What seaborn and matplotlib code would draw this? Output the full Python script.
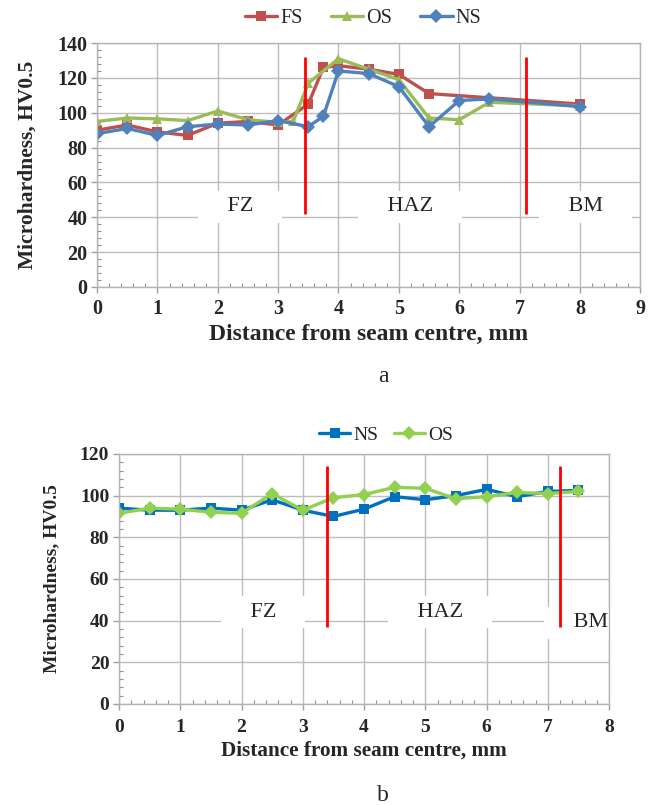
import pandas as pd
import matplotlib
matplotlib.use('Agg')
import matplotlib.pyplot as plt
import seaborn as sns
from matplotlib.ticker import AutoMinorLocator, MultipleLocator

# chart a: three sides of the weld
fs_x = [0, 0.5, 1, 1.5, 2, 2.5, 3, 3.5, 3.75, 4, 4.5, 5, 5.5, 8]
fs_hv = [90, 93, 89, 87, 94, 95, 93, 105, 126, 127, 125, 122, 111, 105]
os_x = [0, 0.5, 1, 1.5, 2, 2.5, 3, 3.25, 3.5, 4, 4.5, 5, 5.5, 6, 6.5, 8]
os_hv = [95, 97, 96.5, 95.5, 101, 96, 94.5, 95, 117, 131, 125, 119, 97, 96, 106, 104]
ns_x = [0, 0.5, 1, 1.5, 2, 2.5, 3, 3.5, 3.75, 4, 4.5, 5, 5.5, 6, 6.5, 8]
ns_hv = [88, 91, 87, 92, 93.5, 93, 95.5, 92, 98, 124, 122.5, 115, 92, 107, 108, 103.5]

# chart b
b_x = [0, 0.5, 1, 1.5, 2, 2.5, 3, 3.5, 4, 4.5, 5, 5.5, 6, 6.5, 7, 7.5]
b_ns = [94, 93, 93, 94, 93, 98, 93, 90, 93.5, 99.5, 98, 100, 103, 99.5, 102, 102.5]
b_os = [91.5, 94, 93.5, 92, 91.5, 101, 93, 99, 100.5, 104, 103.5, 98.5, 99.5, 101.5, 101, 102]

# zone boundaries and zone labels
a_bounds = [3.45, 7.1]
a_bound_span = [42, 132]
b_bounds = [3.4, 7.2]
b_bound_span = [37, 114]
zones = ['FZ', 'HAZ', 'BM']
a_zone_x = [2.37, 5.19, 8.1]
a_zone_y = [46, 46, 46]
b_zone_x = [2.35, 5.24, 7.7]
b_zone_y = [44, 44, 39]

df_a = pd.concat([
    pd.DataFrame({'dist': fs_x, 'hv': fs_hv, 'side': 'FS'}),
    pd.DataFrame({'dist': os_x, 'hv': os_hv, 'side': 'OS'}),
    pd.DataFrame({'dist': ns_x, 'hv': ns_hv, 'side': 'NS'}),
])
df_b = pd.concat([
    pd.DataFrame({'dist': b_x, 'hv': b_ns, 'side': 'NS'}),
    pd.DataFrame({'dist': b_x, 'hv': b_os, 'side': 'OS'}),
])

sns.set_style('whitegrid')
plt.rcParams['font.family'] = ['Liberation Serif', 'DejaVu Serif']

fig = plt.figure(figsize=(6.56, 8.05), dpi=100)
ax_a = fig.add_axes([0.148, 0.6435, 0.828, 0.303])
ax_b = fig.add_axes([0.1814, 0.1255, 0.747, 0.3106])


def style_axes(ax, xmax, ymax, tick_fs, xlab_fs, ylab_fs, ypad, xpad):
    ax.set_xlim(0, xmax)
    ax.set_ylim(0, ymax)
    ax.xaxis.set_major_locator(MultipleLocator(1))
    ax.yaxis.set_major_locator(MultipleLocator(20))
    ax.xaxis.set_minor_locator(AutoMinorLocator(5))
    ax.yaxis.set_minor_locator(AutoMinorLocator(5))
    ax.grid(True, which='major', color='#bdbdbd', linewidth=1.0)
    ax.grid(False, which='minor')
    ax.set_axisbelow(True)
    for sp in ax.spines.values():
        sp.set_color('#b4b4b4')
        sp.set_linewidth(1.0)
    ax.tick_params(which='major', direction='out', length=4, width=1, color='#a0a0a0',
                   labelsize=tick_fs, pad=3, bottom=True, left=True)
    ax.tick_params(which='minor', direction='in', length=3, width=0.8, color='#909090',
                   bottom=True, left=True)
    ax.tick_params(axis='x', which='major', pad=xpad)
    for lab in ax.get_xticklabels() + ax.get_yticklabels():
        lab.set_fontweight('bold')
    ax.set_xlabel('Distance from seam centre, mm', fontsize=xlab_fs, fontweight='bold', labelpad=3)
    ax.set_ylabel('Microhardness, HV0.5', fontsize=ylab_fs, fontweight='bold', labelpad=ypad)


def zone_marks(ax, bounds, span, xs, ys):
    ax.vlines(bounds, span[0], span[1], color='#ff0000', linewidth=2, zorder=2.5)
    for name, x, y in zip(zones, xs, ys):
        ax.text(x, y, '    ' + name + '    ', ha='center', va='center', fontsize=16,
                zorder=1, bbox=dict(boxstyle='square,pad=0.3', fc='white', ec='none'))


# chart a
sns.lineplot(data=df_a, x='dist', y='hv', hue='side', style='side',
             hue_order=['FS', 'OS', 'NS'], style_order=['FS', 'OS', 'NS'],
             palette={'FS': '#c0504d', 'OS': '#9bbb59', 'NS': '#4f81bd'},
             markers={'FS': 's', 'OS': '^', 'NS': 'D'}, dashes=False,
             markersize=7.5, linewidth=2.4, markeredgewidth=0, errorbar=None, ax=ax_a)
style_axes(ax_a, 9, 140, 14.5, 17, 15.5, 14, 5)
zone_marks(ax_a, a_bounds, a_bound_span, a_zone_x, a_zone_y)
h, l = ax_a.get_legend_handles_labels()
ax_a.legend(h, l, loc='lower center', bbox_to_anchor=(0.49, 1.03), ncol=3, frameon=False,
            fontsize=14.5, handlelength=1.6, handletextpad=0.15, columnspacing=1.4,
            borderaxespad=0)

# chart b
sns.lineplot(data=df_b, x='dist', y='hv', hue='side', style='side',
             hue_order=['NS', 'OS'], style_order=['NS', 'OS'],
             palette={'NS': '#0070c0', 'OS': '#92d050'},
             markers={'NS': 's', 'OS': 'D'}, dashes=False,
             markersize=7.5, linewidth=2.4, markeredgewidth=0, errorbar=None, ax=ax_b)
style_axes(ax_b, 8, 120, 14, 15.3, 14, 14, 7)
zone_marks(ax_b, b_bounds, b_bound_span, b_zone_x, b_zone_y)
h, l = ax_b.get_legend_handles_labels()
ax_b.legend(h, l, loc='lower center', bbox_to_anchor=(0.545, 1.01), ncol=2, frameon=False,
            fontsize=14, handlelength=1.6, handletextpad=0.15, columnspacing=0.8,
            borderaxespad=0)

fig.text(0.584, 0.5317, 'a', ha='center', va='center', fontsize=17)
fig.text(0.584, 0.0124, 'b', ha='center', va='center', fontsize=17)

fig.savefig('out.png', dpi=100)
